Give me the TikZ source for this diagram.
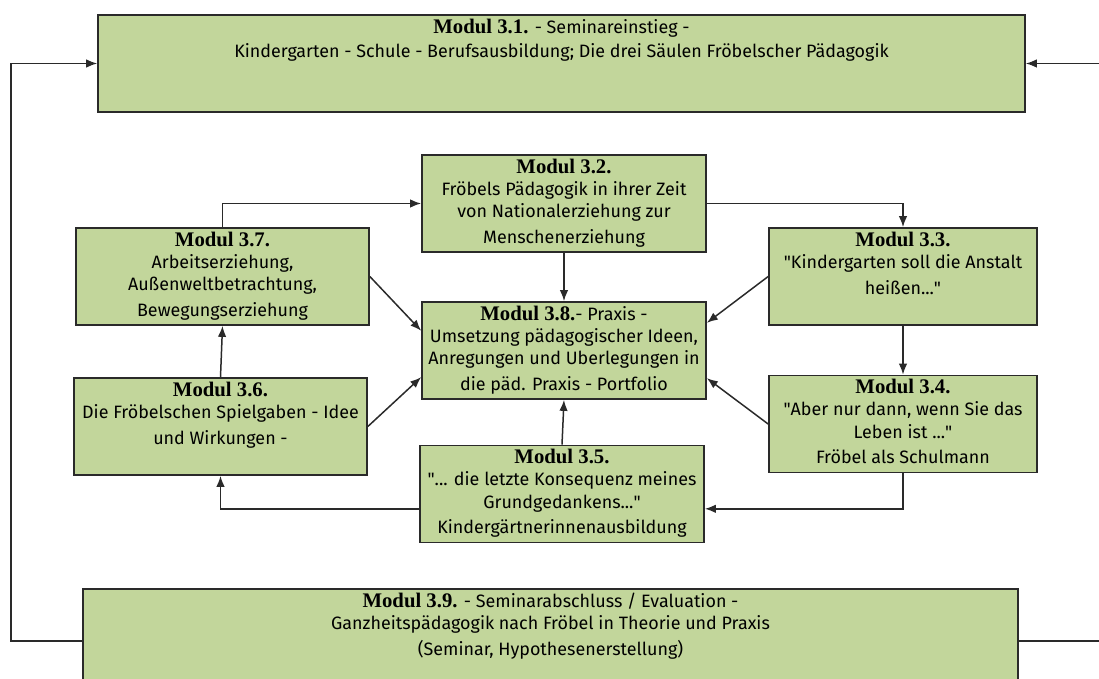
\documentclass[tikz,border=0pt]{standalone}
\usepackage{fontspec}
\setmainfont{Fira Sans}
\newfontfamily\modfont{Liberation Serif}
\usetikzlibrary{calc,arrows.meta}
\definecolor{modgreen}{HTML}{C2D69B}
\definecolor{modline}{HTML}{2A2A2A}
\newcommand{\modhead}[1]{{\modfont\bfseries\fontsize{11.8}{12}\selectfont Modul #1}}
\newcommand{\qq}{\textquotedbl}

\begin{document}
\begin{tikzpicture}[x=0.02cm,y=-0.02cm,
		modbox/.style={draw=modline,fill=modgreen,line width=1pt,inner sep=0pt,minimum height=1.94cm},
		modtext/.style={anchor=north,align=center,inner sep=2.5pt,font=\fontsize{10.2}{12.6}\selectfont},
		arr/.style={-{Latex[length=2.2mm,width=1.7mm]},line width=0.85pt,draw=modline},
		link/.style={line width=0.85pt,draw=modline}]
			\useasboundingbox (0,0) rectangle (1099,679);
			\node[modbox,minimum width=18.54cm,label={[modtext]north:{\modhead{3.1.} - Seminareinstieg -\\[1pt]Kindergarten - Schule - Berufsausbildung; Die drei Säulen Fröbelscher Pädagogik}}] (m31) at (561.5,63.5) {};
			\node[modbox,minimum width=5.68cm,label={[modtext]north:{\modhead{3.2.}\\Fröbels Pädagogik in ihrer Zeit\\von Nationalerziehung zur\\[2pt]Menschenerziehung}}] (m32) at (564,203.5) {};
			\node[modbox,minimum width=5.86cm,label={[modtext]north:{\modhead{3.7.}\\Arbeitserziehung,\\Außenweltbetrachtung,\\[2pt]Bewegungserziehung}}] (m37) at (222.5,276.5) {};
			\node[modbox,minimum width=5.68cm,label={[modtext]north:{\modhead{3.8.}- Praxis -\\Umsetzung pädagogischer Ideen,\\Anregungen und Uberlegungen in\\[2pt]die päd. Praxis - Portfolio}}] (m38) at (564,350.5) {};
			\node[modbox,minimum width=5.36cm,label={[modtext]north:{\modhead{3.3.}\\\qq Kindergarten soll die Anstalt\\[2pt]heißen...\qq}}] (m33) at (903,276.5) {};
			\node[modbox,minimum width=5.86cm,label={[modtext]north:{\modhead{3.6.}\\Die Fröbelschen Spielgaben - Idee\\[2pt]und Wirkungen -}}] (m36) at (220.5,426.5) {};
			\node[modbox,minimum width=5.36cm,label={[modtext]north:{\modhead{3.4.}\\\qq Aber nur dann, wenn Sie das\\Leben ist ...\qq\\[2pt]Fröbel als Schulmann}}] (m34) at (903,424) {};
			\node[modbox,minimum width=5.68cm,label={[modtext]north:{\modhead{3.5.}\\\qq... die letzte Konsequenz meines\\Grundgedankens...\qq\\[2pt]Kindergärtnerinnenausbildung}}] (m35) at (562,494) {};
			\node[modbox,minimum width=18.7cm,minimum height=2.08cm,label={[modtext]north:{\modhead{3.9.} - Seminarabschluss / Evaluation -\\Ganzheitspädagogik nach Fröbel in Theorie und Praxis\\[2pt](Seminar, Hypothesenerstellung)}}] (m39) at (550.5,641) {};
			\coordinate (rim) at (1099,0);
			\draw[arr] (m37.north) |- (m32.west);
			\draw[arr] (m32.east) -| (m33.north);
			\draw[arr] (m32.south) -- (m38.north);
			\draw[arr] (m37.east) -- ($(m38.north west)!0.3!(m38.south west)$);
			\draw[arr] (m36.east) -- ($(m38.north west)!0.77!(m38.south west)$);
			\draw[arr] (m33.west) -- ($(m38.north east)!0.22!(m38.south east)$);
			\draw[arr] (m34.west) -- ($(m38.north east)!0.78!(m38.south east)$);
			\draw[arr] (m35.north) -- (m38.south);
			\draw[arr] (m36.north) -- (m37.south);
			\draw[arr] (m33.south) -- (m34.north);
			\draw[arr] (m34.south) |- ($(m35.north east)!0.65!(m35.south east)$);
			\draw[arr] ($(m35.north west)!0.65!(m35.south west)$) -| (m36.south);
			\draw[arr] (m39.west) -- ++(-71,0) |- (m31.west);
			\draw[link] (m39.east) -- (rim |- m39.east);
			\draw[arr] (rim |- m31.east) -- (m31.east);
		\end{tikzpicture}
\end{document}
